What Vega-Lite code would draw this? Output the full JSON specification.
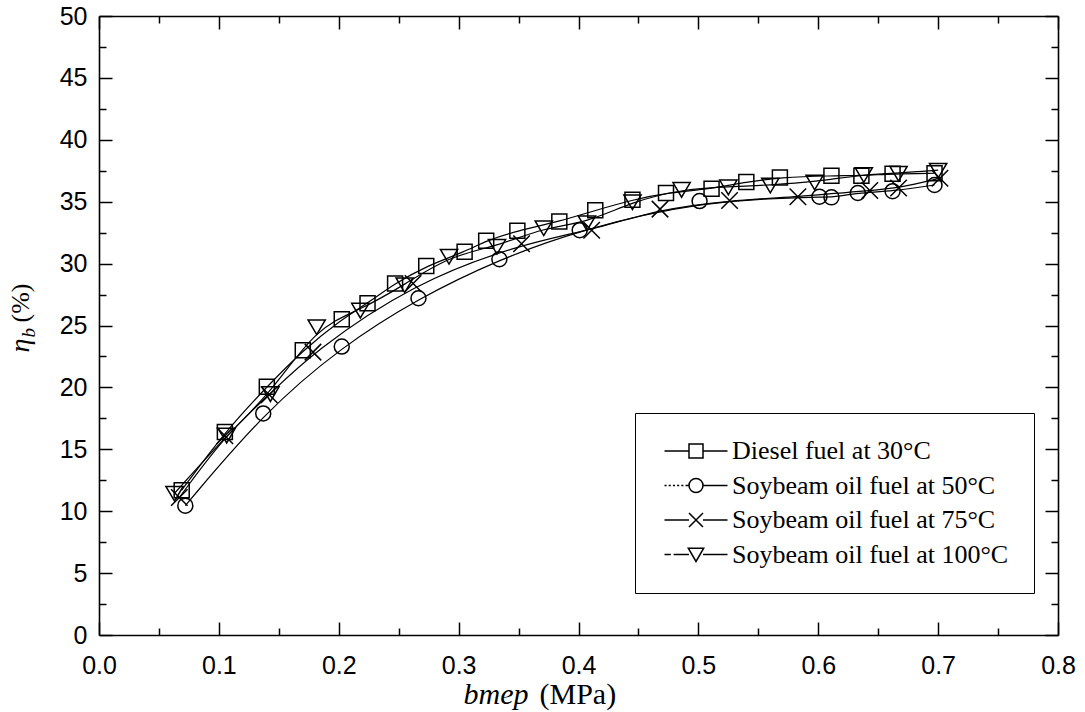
{
  "$schema": "https://vega.github.io/schema/vega-lite/v6.json",
  "autosize": {"type": "none"},
  "padding": {"left": 99, "top": 16, "right": 27, "bottom": 77},
  "width": 959,
  "height": 619,
  "background": "white",
  "config": {
    "view": {"stroke": null},
    "axis": {"grid": false, "domainColor": "black", "domainWidth": 1.6, "tickColor": "black", "tickWidth": 1.5, "labelColor": "black", "labelFont": "Liberation Sans", "labelFontSize": 25, "titleColor": "black", "titleFont": "Liberation Serif", "titleFontWeight": "normal", "labelFlush": false, "labelOverlap": false}
  },
  "datasets": {
    "pts": [
      {"fuel": "Diesel fuel at 30°C", "bmep": 0.069, "eta": 11.7},
      {"fuel": "Diesel fuel at 30°C", "bmep": 0.105, "eta": 16.4},
      {"fuel": "Diesel fuel at 30°C", "bmep": 0.140, "eta": 20.05},
      {"fuel": "Diesel fuel at 30°C", "bmep": 0.170, "eta": 23.0},
      {"fuel": "Diesel fuel at 30°C", "bmep": 0.2025, "eta": 25.5},
      {"fuel": "Diesel fuel at 30°C", "bmep": 0.224, "eta": 26.8},
      {"fuel": "Diesel fuel at 30°C", "bmep": 0.247, "eta": 28.4},
      {"fuel": "Diesel fuel at 30°C", "bmep": 0.273, "eta": 29.8},
      {"fuel": "Diesel fuel at 30°C", "bmep": 0.305, "eta": 30.95},
      {"fuel": "Diesel fuel at 30°C", "bmep": 0.323, "eta": 31.85},
      {"fuel": "Diesel fuel at 30°C", "bmep": 0.349, "eta": 32.65},
      {"fuel": "Diesel fuel at 30°C", "bmep": 0.384, "eta": 33.4},
      {"fuel": "Diesel fuel at 30°C", "bmep": 0.414, "eta": 34.3},
      {"fuel": "Diesel fuel at 30°C", "bmep": 0.445, "eta": 35.15},
      {"fuel": "Diesel fuel at 30°C", "bmep": 0.473, "eta": 35.7},
      {"fuel": "Diesel fuel at 30°C", "bmep": 0.511, "eta": 36.05},
      {"fuel": "Diesel fuel at 30°C", "bmep": 0.540, "eta": 36.6},
      {"fuel": "Diesel fuel at 30°C", "bmep": 0.568, "eta": 36.95},
      {"fuel": "Diesel fuel at 30°C", "bmep": 0.611, "eta": 37.1},
      {"fuel": "Diesel fuel at 30°C", "bmep": 0.636, "eta": 37.1},
      {"fuel": "Diesel fuel at 30°C", "bmep": 0.662, "eta": 37.25},
      {"fuel": "Diesel fuel at 30°C", "bmep": 0.697, "eta": 37.3},
      {"fuel": "Soybeam oil fuel at 50°C", "bmep": 0.072, "eta": 10.45},
      {"fuel": "Soybeam oil fuel at 50°C", "bmep": 0.137, "eta": 17.9},
      {"fuel": "Soybeam oil fuel at 50°C", "bmep": 0.2025, "eta": 23.3},
      {"fuel": "Soybeam oil fuel at 50°C", "bmep": 0.2665, "eta": 27.2},
      {"fuel": "Soybeam oil fuel at 50°C", "bmep": 0.334, "eta": 30.35},
      {"fuel": "Soybeam oil fuel at 50°C", "bmep": 0.401, "eta": 32.7},
      {"fuel": "Soybeam oil fuel at 50°C", "bmep": 0.501, "eta": 35.05},
      {"fuel": "Soybeam oil fuel at 50°C", "bmep": 0.601, "eta": 35.4},
      {"fuel": "Soybeam oil fuel at 50°C", "bmep": 0.611, "eta": 35.35},
      {"fuel": "Soybeam oil fuel at 50°C", "bmep": 0.633, "eta": 35.7},
      {"fuel": "Soybeam oil fuel at 50°C", "bmep": 0.662, "eta": 35.85},
      {"fuel": "Soybeam oil fuel at 50°C", "bmep": 0.697, "eta": 36.35},
      {"fuel": "Soybeam oil fuel at 75°C", "bmep": 0.067, "eta": 11.1},
      {"fuel": "Soybeam oil fuel at 75°C", "bmep": 0.105, "eta": 16.1},
      {"fuel": "Soybeam oil fuel at 75°C", "bmep": 0.142, "eta": 19.4},
      {"fuel": "Soybeam oil fuel at 75°C", "bmep": 0.1785, "eta": 22.85},
      {"fuel": "Soybeam oil fuel at 75°C", "bmep": 0.262, "eta": 28.4},
      {"fuel": "Soybeam oil fuel at 75°C", "bmep": 0.3525, "eta": 31.6},
      {"fuel": "Soybeam oil fuel at 75°C", "bmep": 0.411, "eta": 32.7},
      {"fuel": "Soybeam oil fuel at 75°C", "bmep": 0.468, "eta": 34.4},
      {"fuel": "Soybeam oil fuel at 75°C", "bmep": 0.526, "eta": 35.1},
      {"fuel": "Soybeam oil fuel at 75°C", "bmep": 0.583, "eta": 35.4},
      {"fuel": "Soybeam oil fuel at 75°C", "bmep": 0.643, "eta": 35.9},
      {"fuel": "Soybeam oil fuel at 75°C", "bmep": 0.667, "eta": 36.1},
      {"fuel": "Soybeam oil fuel at 75°C", "bmep": 0.7015, "eta": 36.9},
      {"fuel": "Soybeam oil fuel at 100°C", "bmep": 0.063, "eta": 11.45},
      {"fuel": "Soybeam oil fuel at 100°C", "bmep": 0.1065, "eta": 16.15},
      {"fuel": "Soybeam oil fuel at 100°C", "bmep": 0.143, "eta": 19.5},
      {"fuel": "Soybeam oil fuel at 100°C", "bmep": 0.1816, "eta": 24.9},
      {"fuel": "Soybeam oil fuel at 100°C", "bmep": 0.218, "eta": 26.25},
      {"fuel": "Soybeam oil fuel at 100°C", "bmep": 0.255, "eta": 28.3},
      {"fuel": "Soybeam oil fuel at 100°C", "bmep": 0.292, "eta": 30.6},
      {"fuel": "Soybeam oil fuel at 100°C", "bmep": 0.332, "eta": 31.4},
      {"fuel": "Soybeam oil fuel at 100°C", "bmep": 0.371, "eta": 32.9},
      {"fuel": "Soybeam oil fuel at 100°C", "bmep": 0.407, "eta": 33.3},
      {"fuel": "Soybeam oil fuel at 100°C", "bmep": 0.445, "eta": 35.0},
      {"fuel": "Soybeam oil fuel at 100°C", "bmep": 0.486, "eta": 36.0},
      {"fuel": "Soybeam oil fuel at 100°C", "bmep": 0.525, "eta": 36.2},
      {"fuel": "Soybeam oil fuel at 100°C", "bmep": 0.560, "eta": 36.35},
      {"fuel": "Soybeam oil fuel at 100°C", "bmep": 0.597, "eta": 36.6},
      {"fuel": "Soybeam oil fuel at 100°C", "bmep": 0.638, "eta": 37.2},
      {"fuel": "Soybeam oil fuel at 100°C", "bmep": 0.667, "eta": 37.3},
      {"fuel": "Soybeam oil fuel at 100°C", "bmep": 0.700, "eta": 37.55}
    ]
  },
  "data": {"name": "pts"},
  "resolve": {"scale": {"shape": "independent"}, "axis": {"x": "independent", "y": "independent"}},
  "layer": [
    {
      "mark": {"type": "line", "interpolate": "basis", "color": "black", "strokeWidth": 1.2},
      "encoding": {
        "x": {"field": "bmep", "type": "quantitative", "scale": {"domain": [0, 0.8], "nice": false, "zero": false},
          "axis": {"orient": "bottom", "values": [0,0.05,0.1,0.15,0.2,0.25,0.3,0.35,0.4,0.45,0.5,0.55,0.6,0.65,0.7,0.75,0.8],
            "labelExpr": "abs(datum.value*10 - round(datum.value*10)) < 0.001 ? format(datum.value, '.1f') : ''",
            "tickSize": {"condition": {"test": "abs(datum.value*10 - round(datum.value*10)) < 0.001", "value": -13}, "value": -7},
            "labelPadding": 31,
            "title": "bmep", "titleFontStyle": "italic", "titleFontSize": 30, "titleAlign": "left", "titleBaseline": "alphabetic", "titleX": 364, "titleY": 68}},
        "y": {"field": "eta", "type": "quantitative", "scale": {"domain": [0, 50], "nice": false, "zero": false},
          "axis": {"orient": "left", "values": [0,2.5,5,7.5,10,12.5,15,17.5,20,22.5,25,27.5,30,32.5,35,37.5,40,42.5,45,47.5,50],
            "labelExpr": "datum.value % 5 == 0 ? format(datum.value, 'd') : ''",
            "tickSize": {"condition": {"test": "datum.value % 5 == 0", "value": -13}, "value": -7},
            "labelPadding": 25,
            "title": "η", "titleFontStyle": "italic", "titleFontSize": 28, "titleAngle": 270, "titleAlign": "left", "titleBaseline": "alphabetic", "titleX": -71, "titleY": 336}},
        "detail": {"field": "fuel", "type": "nominal"}
      }
    },
    {
      "mark": {"type": "point", "filled": false, "color": "black", "strokeWidth": 1.5, "size": 225, "opacity": 1},
      "encoding": {
        "x": {"field": "bmep", "type": "quantitative", "scale": {"domain": [0, 0.8], "nice": false, "zero": false},
          "axis": {"orient": "top", "values": [0,0.05,0.1,0.15,0.2,0.25,0.3,0.35,0.4,0.45,0.5,0.55,0.6,0.65,0.7,0.75,0.8], "labels": false, "title": null,
            "tickSize": {"condition": {"test": "abs(datum.value*10 - round(datum.value*10)) < 0.001", "value": -13}, "value": -7}}},
        "y": {"field": "eta", "type": "quantitative", "scale": {"domain": [0, 50], "nice": false, "zero": false},
          "axis": {"orient": "right", "values": [0,2.5,5,7.5,10,12.5,15,17.5,20,22.5,25,27.5,30,32.5,35,37.5,40,42.5,45,47.5,50], "labels": false, "title": null,
            "tickSize": {"condition": {"test": "datum.value % 5 == 0", "value": -13}, "value": -7}}},
        "shape": {"field": "fuel", "type": "nominal", "legend": null,
          "scale": {"domain": ["Diesel fuel at 30°C", "Soybeam oil fuel at 50°C", "Soybeam oil fuel at 75°C", "Soybeam oil fuel at 100°C"],
            "range": ["square", "circle", "M-1.1,-1.1L1.1,1.1M-1.1,1.1L1.1,-1.1", "M-1.15,-0.9L1.15,-0.9L0,1.05Z"]}}
      }
    },
    {
      "mark": {"type": "point", "filled": false, "color": "black", "opacity": 0},
      "encoding": {
        "x": {"field": "bmep", "type": "quantitative", "scale": {"domain": [0, 0.8], "nice": false, "zero": false},
          "axis": {"orient": "bottom", "ticks": false, "labels": false, "domain": false, "title": "(MPa)", "titleFontStyle": "normal", "titleFontSize": 30, "titleAlign": "left", "titleBaseline": "alphabetic", "titleX": 440, "titleY": 68}},
        "y": {"field": "eta", "type": "quantitative", "scale": {"domain": [0, 50], "nice": false, "zero": false},
          "axis": {"orient": "left", "ticks": false, "labels": false, "domain": false, "title": "(%)", "titleFontStyle": "normal", "titleFontSize": 26, "titleAngle": 270, "titleAlign": "left", "titleBaseline": "alphabetic", "titleX": -71, "titleY": 306}},
        "shape": {"field": "fuel", "type": "nominal",
          "scale": {"domain": ["Diesel fuel at 30°C", "Soybeam oil fuel at 50°C", "Soybeam oil fuel at 75°C", "Soybeam oil fuel at 100°C"],
            "range": [
              "M-4.5,0H-1M-1,-1H1V1H-1ZM1,0H4.5",
              "M-4.5,0H-4.2M-3.9,0H-3.6M-3.3,0H-3M-2.7,0H-2.4M-2.1,0H-1.8M-1.5,0H-1.1M-1,0A1,1 0 1,0 1,0A1,1 0 1,0 -1,0M1,0H4.5",
              "M-4.5,0H-1M-1,-1L1,1M-1,1L1,-1M1,0H4.5",
              "M-4.5,0H-3.6M-3.2,0H-1M-1.1,-0.9H1.1L0,1ZM1,0H4.5"
            ]},
          "legend": {"orient": "none", "legendX": 536, "legendY": 397, "title": null, "padding": 25, "rowPadding": 8.5,
            "strokeColor": "black", "fillColor": "white", "symbolSize": 196, "symbolStrokeWidth": 1.5, "symbolStrokeColor": "black", "symbolFillColor": "transparent",
            "symbolOffset": 23, "labelOffset": 23, "labelFont": "Liberation Serif", "labelFontSize": 26, "labelColor": "black", "labelLimit": 400,
            "encode": {"symbols": {"update": {"opacity": {"value": 1}, "stroke": {"value": "black"}, "strokeWidth": {"value": 1.5}, "fill": {"value": "transparent"}, "size": {"value": 196}}},
                       "legend": {"update": {"strokeWidth": {"value": 1.5}}}}}}
      }
    },
    {
      "mark": {"type": "point", "opacity": 0},
      "encoding": {
        "x": {"field": "bmep", "type": "quantitative", "scale": {"domain": [0, 0.8], "nice": false, "zero": false}, "axis": null},
        "y": {"field": "eta", "type": "quantitative", "scale": {"domain": [0, 50], "nice": false, "zero": false},
          "axis": {"orient": "left", "ticks": false, "labels": false, "domain": false, "title": "b", "titleFontStyle": "italic", "titleFontSize": 19, "titleAngle": 270, "titleAlign": "left", "titleBaseline": "alphabetic", "titleX": -65, "titleY": 321}}
      }
    }
  ]
}
